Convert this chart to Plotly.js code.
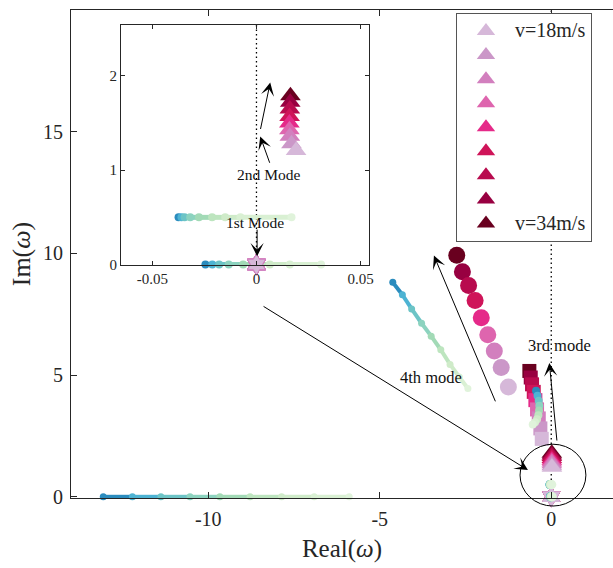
<!DOCTYPE html>
<html>
<head>
<meta charset="utf-8">
<script src="https://cdn.plot.ly/plotly-3.0.1.min.js"></script>
<style>
  html, body { margin: 0; padding: 0; background: #fff; }
  #chart { width: 613px; height: 568px; }
</style>
</head>
<body>
<div id="chart"></div>
<script>
// Flight speeds and their colours (light = slow, dark = fast)
const speeds = [18, 20, 22, 24, 26, 28, 30, 32, 34];
const speedLabels = ['v=18m/s', '\u00a0', '\u00a0', '\u00a0', '\u00a0', '\u00a0', '\u00a0', '\u00a0', 'v=34m/s'];
const pinkColors = ['#d6b8d9', '#cb97c8', '#d27fbe', '#de65ae', '#e52a89', '#cf1459', '#b80b4e', '#980041', '#69001f'];

// Eigenvalues per speed (18 -> 34 m/s)
const mode4Re = [-1.25, -1.46, -1.66, -1.85, -2.04, -2.22, -2.41, -2.59, -2.755];
const mode4Im = [4.51, 5.31, 5.99, 6.66, 7.36, 8.06, 8.68, 9.25, 9.92];
const mode3Re = [-0.277, -0.317, -0.364, -0.414, -0.463, -0.510, -0.560, -0.598, -0.638];
const mode3Im = [2.38, 2.81, 3.22, 3.59, 3.97, 4.31, 4.62, 4.90, 5.17];
const mode2Re = [0.0190, 0.0168, 0.0160, 0.0158, 0.0158, 0.0159, 0.0160, 0.0162, 0.0163];
const mode2Im = [1.21, 1.28, 1.36, 1.43, 1.50, 1.57, 1.65, 1.72, 1.79];
const mode1Re = [0, 0, 0, 0, 0, 0, 0, 0, 0];
const mode1Im = [0, 0, 0, 0, 0, 0, 0, 0, 0];

// Reference loci, ordered along each path (blue end -> pale end)
const pathColors = ['#2b8cbe', '#4db3d3', '#6cc4c6', '#8cd3bf', '#a2dab6', '#bde5bf', '#cfebc9', '#d9f0d3', '#e0f3db'];
const realAxisRe = [-13.06, -12.21, -11.38, -10.53, -9.66, -8.78, -7.86, -6.91, -5.89];
const realAxisIm = [0, 0, 0, 0, 0, 0, 0, 0, 0];
const fourthRe = [-4.62, -4.34, -4.07, -3.78, -3.50, -3.22, -2.95, -2.68, -2.43];
const fourthIm = [8.81, 8.30, 7.72, 7.13, 6.60, 6.04, 5.44, 4.92, 4.45];
const thirdRe = [-0.443, -0.400, -0.365, -0.347, -0.356, -0.376, -0.414, -0.472, -0.540];
const thirdIm = [4.36, 4.15, 3.95, 3.74, 3.54, 3.35, 3.19, 3.06, 2.97];
const secondRe = [-0.0374, -0.0360, -0.0345, -0.0318, -0.0276, -0.0213, -0.0150, -0.0077, 0.0168];
const secondIm = [0.50, 0.50, 0.50, 0.50, 0.50, 0.50, 0.50, 0.50, 0.50];
const firstRe = [-0.0245, -0.0212, -0.0179, -0.0133, -0.0064, -0.0003, 0.0064, 0.0160, 0.0310];
const firstIm = [0, 0, 0, 0, 0, 0, 0, 0, 0];

// Axis ranges
const mainX = [-14, 1.8], mainY = [-0.05, 20];
const insetX = [-0.065, 0.054], insetY = [-0.005, 2.54];

const FONT = 'Liberation Serif, Times New Roman, serif';
const INK = '#262626';

const traces = [];

// pink family drawn fast -> slow so the paler markers sit on top
function pinkSeries(re, im, symbol, size, xa, ya) {
  const idx = speeds.map((_, i) => i).reverse();
  const t = {
    type: 'scatter', mode: 'markers', xaxis: xa, yaxis: ya, showlegend: false,
    x: idx.map(i => re[i]), y: idx.map(i => im[i]),
    cliponaxis: false, hoverinfo: 'skip',
    marker: { symbol: symbol, size: size, color: idx.map(i => pinkColors[i]), line: { width: 0 } }
  };
  traces.push(t);
  return t;
}

// line with colour changing segment by segment, plus its markers
function gradientPath(re, im, xa, ya, lw, ms) {
  for (let i = 0; i < re.length - 1; i++) {
    traces.push({
      type: 'scatter', mode: 'lines', xaxis: xa, yaxis: ya, showlegend: false, hoverinfo: 'skip',
      x: [re[i], re[i + 1]], y: [im[i], im[i + 1]],
      line: { color: pathColors[i], width: lw }
    });
  }
  traces.push({
    type: 'scatter', mode: 'markers', xaxis: xa, yaxis: ya, showlegend: false, hoverinfo: 'skip',
    x: re, y: im, cliponaxis: false,
    marker: { size: ms, color: pathColors, line: { width: 0 } }
  });
}

// ---- main axes ----
pinkSeries(mode4Re, mode4Im, 'circle', 17, 'x', 'y');
pinkSeries(mode3Re, mode3Im, 'square', 14, 'x', 'y');
pinkSeries(mode1Re, mode1Im, 'hexagram', 16, 'x', 'y');
// triangles, one trace per speed so each gets a legend row
for (let i = speeds.length - 1; i >= 0; i--) {
  traces.push({
    type: 'scatter', mode: 'markers', xaxis: 'x', yaxis: 'y',
    name: '<span style="font-size:20px">' + speedLabels[i] + '</span>',
    showlegend: true, hoverinfo: 'skip', cliponaxis: false,
    x: [mode2Re[i]], y: [mode2Im[i]],
    marker: { symbol: 'triangle-up', size: 18, color: pinkColors[i], line: { width: 0 } }
  });
}
gradientPath(realAxisRe, realAxisIm, 'x', 'y', 4, 7);
gradientPath(fourthRe, fourthIm, 'x', 'y', 4, 7);
gradientPath(thirdRe, thirdIm, 'x', 'y', 4, 8);
gradientPath(secondRe, secondIm, 'x', 'y', 4, 9);
gradientPath(firstRe, firstIm, 'x', 'y', 4, 9);

// ---- inset (zoom around the origin) ----
gradientPath(secondRe, secondIm, 'x2', 'y2', 5, 8);
gradientPath(firstRe, firstIm, 'x2', 'y2', 5, 8);
pinkSeries(mode2Re, mode2Im, 'triangle-up', 18, 'x2', 'y2');
pinkSeries(mode1Re, mode1Im, 'hexagram', 16, 'x2', 'y2').marker.line = { width: 1, color: '#d27fbe' };

// data -> paper conversion for decorations that must not be clipped
const px = v => (v - mainX[0]) / (mainX[1] - mainX[0]);
const py = v => (v - mainY[0]) / (mainY[1] - mainY[0]);

const arrow = (xr, yr, head, tail) => ({
  xref: xr, yref: yr, axref: xr, ayref: yr,
  x: head[0], y: head[1], ax: tail[0], ay: tail[1],
  text: '', showarrow: true, arrowhead: 3, arrowsize: 2.2, arrowwidth: 1,
  arrowcolor: '#000', standoff: 0, startstandoff: 0
});
const label = (xr, yr, x, y, text, size) => ({
  xref: xr, yref: yr, x: x, y: y, text: text, showarrow: false,
  font: { family: FONT, size: size, color: '#111' }
});

const axisCommon = {
  showgrid: false, zeroline: false, showline: true, linecolor: INK, linewidth: 1,
  ticks: 'inside', tickcolor: INK, tickfont: { family: FONT, size: 20, color: INK }
};

const layout = {
  width: 613, height: 568,
  margin: { l: 71, r: 0, t: 10, b: 70 },
  paper_bgcolor: '#fff', plot_bgcolor: '#fff',
  font: { family: FONT, color: INK },
  showlegend: true,
  legend: {
    x: 0.7103, y: 0.9939, xanchor: 'left', yanchor: 'top',
    bgcolor: '#fff', bordercolor: '#555', borderwidth: 1,
    font: { family: FONT, size: 16.2, color: INK },
    traceorder: 'reversed', itemwidth: 48
  },
  xaxis: Object.assign({}, axisCommon, {
    range: mainX, tickvals: [-10, -5, 0], ticktext: ['-10', '-5', '0'],
    ticklen: 6, mirror: 'ticks', ticklabelstandoff: 3,
    title: { text: 'Real(<i>ω</i>)', font: { family: FONT, size: 25, color: INK }, standoff: 10 }
  }),
  yaxis: Object.assign({}, axisCommon, {
    range: mainY, tickvals: [0, 5, 10, 15], ticktext: ['0', '5', '10', '15'],
    ticklen: 6, mirror: false, ticklabelstandoff: 3,
    title: { text: 'Im(<i>ω</i>)', font: { family: FONT, size: 26, color: INK }, standoff: 4 }
  }),
  xaxis2: Object.assign({}, axisCommon, {
    domain: [0.0923, 0.5498], anchor: 'y2', range: insetX,
    tickvals: [-0.05, 0, 0.05], ticktext: ['-0.05', '0', '0.05'],
    ticklen: 4, mirror: 'ticks', tickfont: { family: FONT, size: 15, color: INK }
  }),
  yaxis2: Object.assign({}, axisCommon, {
    domain: [0.4775, 0.9693], anchor: 'x2', range: insetY,
    tickvals: [0, 1, 2], ticktext: ['0', '1', '2'],
    ticklen: 4, mirror: 'ticks', tickfont: { family: FONT, size: 15, color: INK }
  }),
  shapes: [
    { type: 'line', xref: 'x', yref: 'y', x0: 0, x1: 0, y0: mainY[0], y1: mainY[1], layer: 'below',
      line: { color: '#000', width: 1.3, dash: '1.5px,3px' } },
    { type: 'line', xref: 'x2', yref: 'y2', x0: 0, x1: 0, y0: insetY[0], y1: insetY[1], layer: 'below',
      line: { color: '#000', width: 1.3, dash: '1.5px,3px' } },
    { type: 'circle', xref: 'paper', yref: 'paper',
      x0: px(-0.91), x1: px(1.01), y0: py(-0.38), y1: py(2.16),
      line: { color: '#000', width: 1 } }
  ],
  annotations: [
    label('x2', 'y2', 0.0058, 0.958, '2nd Mode', 15.5),
    label('x2', 'y2', -0.0008, 0.45, '1st Mode', 15.5),
    arrow('x2', 'y2', [0.0018, 1.358], [0.0066, 1.063]),
    arrow('x2', 'y2', [0.0066, 1.93], [0.0018, 1.421]),
    arrow('x2', 'y2', [0.0003, 0.087], [0.0003, 0.386]),
    label('x', 'y', -3.50, 4.90, '4th mode', 16.5),
    label('x', 'y', 0.227, 6.21, '3rd mode', 16.5),
    arrow('x', 'y', [-3.42, 9.91], [-1.61, 3.86]),
    arrow('x', 'y', [-0.056, 5.50], [0.169, 2.25]),
    arrow('x', 'y', [-0.68, 1.10], [-8.43, 7.86])
  ]
};

Plotly.newPlot('chart', traces, layout, { displayModeBar: false, staticPlot: true });
</script>
</body>
</html>
